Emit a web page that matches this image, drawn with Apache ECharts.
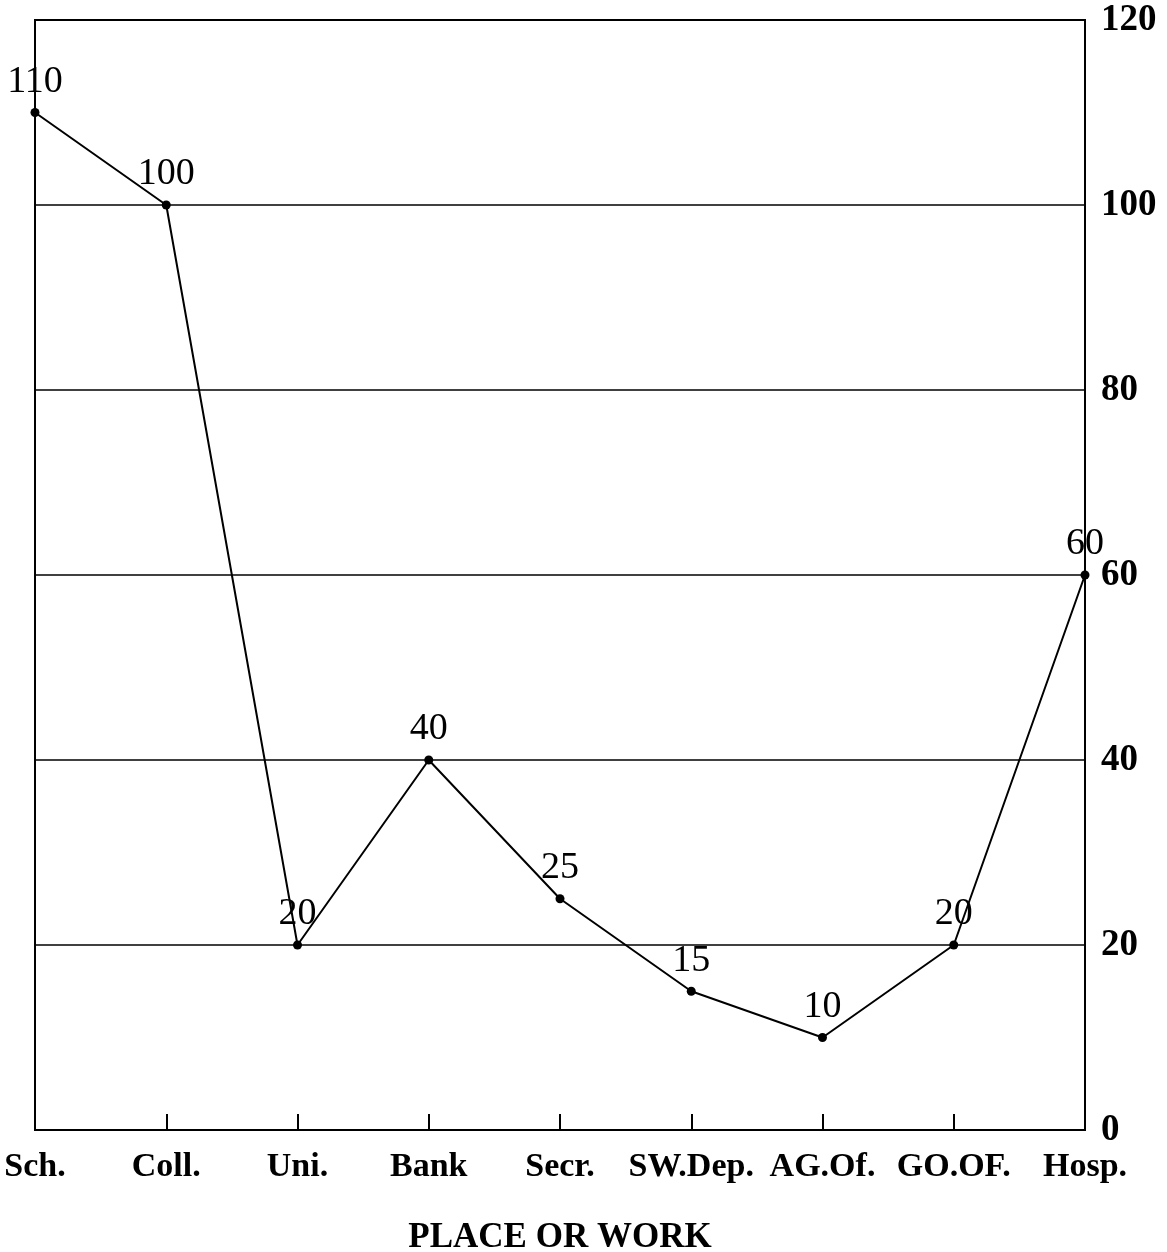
<!DOCTYPE html>
<html>
<head>
<meta charset="utf-8">
<script src="https://cdn.jsdelivr.net/npm/echarts@6/dist/echarts.min.js"></script>
<style>
html,body{margin:0;padding:0;background:#fff;}
#chart{width:1167px;height:1252px;}
</style>
</head>
<body>
<div id="chart"></div>
<script>
var categories = ['Sch.', 'Coll.', 'Uni.', 'Bank', 'Secr.', 'SW.Dep.', 'AG.Of.', 'GO.OF.', 'Hosp.'];
var values = [110, 100, 20, 40, 25, 15, 10, 20, 60];
var yTicks = [0, 20, 40, 60, 80, 100, 120];
var xTitle = 'PLACE OR WORK';

var chart = echarts.init(document.getElementById('chart'));
var serif = '"Liberation Serif", "Times New Roman", serif';
chart.setOption({
  animation: false,
  backgroundColor: '#fff',
  grid: {left: 35, right: 82, top: 20, bottom: 122, show: true, borderColor: '#000', borderWidth: 2,
         backgroundColor: 'transparent', containLabel: false, outerBoundsMode: 'none'},
  xAxis: {
    type: 'category',
    data: categories,
    boundaryGap: false,
    name: xTitle,
    nameLocation: 'middle',
    nameGap: 90,
    nameTextStyle: {fontFamily: serif, fontSize: 35, color: '#000', fontWeight: 'bold'},
    axisLine: {lineStyle: {color: '#000', width: 2}},
    axisTick: {inside: true, length: 16, lineStyle: {color: '#000', width: 2}, alignWithLabel: true},
    axisLabel: {fontFamily: serif, fontSize: 34, fontWeight: 'bold', color: '#000', margin: 20, interval: 0},
    splitLine: {show: false}
  },
  yAxis: {
    type: 'value',
    position: 'right',
    min: yTicks[0],
    max: yTicks[yTicks.length - 1],
    interval: 20,
    axisLine: {show: true, lineStyle: {color: '#000', width: 2}},
    axisTick: {show: false},
    axisLabel: {fontFamily: serif, fontSize: 37, fontWeight: 'bold', color: '#000', margin: 16},
    splitLine: {show: true, lineStyle: {color: '#000', width: 1.5}}
  },
  series: [{
    type: 'line',
    data: values,
    symbol: 'circle',
    symbolSize: 9,
    itemStyle: {color: '#000'},
    lineStyle: {color: '#000', width: 2},
    label: {show: true, position: 'top', distance: 7, fontFamily: serif, fontSize: 38, color: '#000'}
  }]
});
</script>
</body>
</html>
